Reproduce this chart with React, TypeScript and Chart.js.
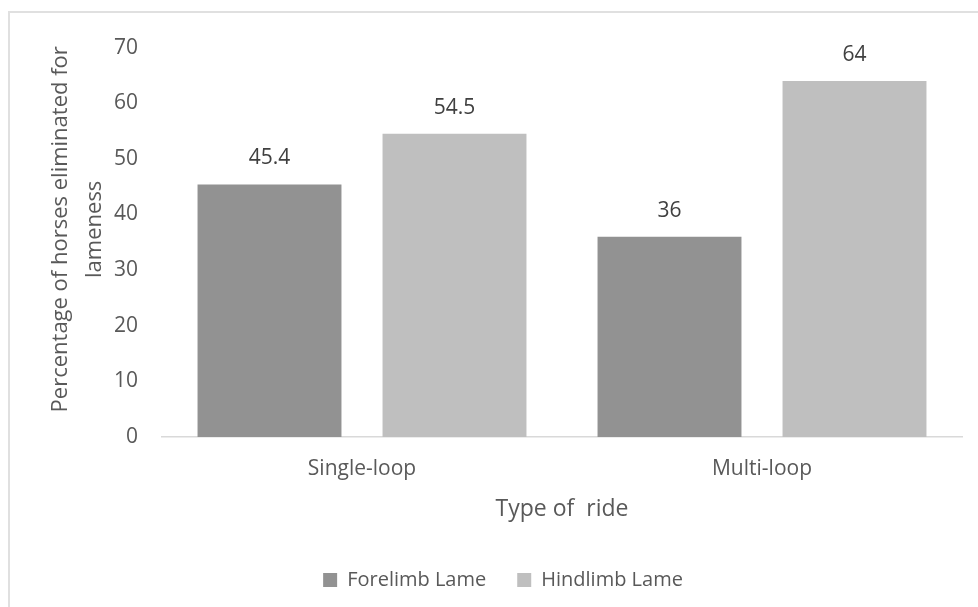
import React, { useEffect, useRef } from "react";
import { Chart, registerables } from "chart.js";

Chart.register(...registerables);

// Ride types and lameness percentages
const categories = ["Single-loop", "Multi-loop"];
const forelimbLame = [45.4, 36];
const hindlimbLame = [54.5, 64];
const seriesNames = ["Forelimb Lame", "Hindlimb Lame"];
const yMin = 0;
const yMax = 70;
const yStep = 10;
const yTitle = ["Percentage of horses eliminated for", "lameness"];
const xTitle = "Type of  ride";

const FONT = "'Open Sans', 'DejaVu Sans', sans-serif";
const TEXT = "#595959";

// Prints each bar's value just above it
const valueLabels = {
  id: "valueLabels",
  afterDatasetsDraw(chart: any) {
    const { ctx } = chart;
    ctx.save();
    ctx.font = `21px ${FONT}`;
    ctx.fillStyle = "#404040";
    ctx.textAlign = "center";
    ctx.textBaseline = "alphabetic";
    chart.data.datasets.forEach((ds: any, i: number) => {
      chart.getDatasetMeta(i).data.forEach((bar: any, j: number) => {
        ctx.fillText(String(ds.data[j]), bar.x, bar.y - 20);
      });
    });
    ctx.restore();
  },
};

// Two-line rotated title for the value axis, set a little above the plot's middle
const valueAxisTitle = {
  id: "valueAxisTitle",
  afterDraw(chart: any) {
    const { ctx, chartArea } = chart;
    const cy = (chartArea.top + chartArea.bottom) / 2 - 13;
    const lineGap = 34;
    ctx.save();
    ctx.font = `22px ${FONT}`;
    ctx.fillStyle = TEXT;
    ctx.textAlign = "center";
    ctx.textBaseline = "middle";
    yTitle.forEach((line, i) => {
      ctx.save();
      ctx.translate(53 + i * lineGap, cy);
      ctx.rotate(-Math.PI / 2);
      ctx.fillText(line, 0, 0);
      ctx.restore();
    });
    ctx.restore();
  },
};

export default function App() {
  const canvasRef = useRef<HTMLCanvasElement | null>(null);

  useEffect(() => {
    if (!canvasRef.current) return;
    const chart = new Chart(canvasRef.current, {
      type: "bar",
      data: {
        labels: categories,
        datasets: [
          {
            label: seriesNames[0],
            data: forelimbLame,
            backgroundColor: "#929292",
            categoryPercentage: 0.925,
            barPercentage: 0.778,
          },
          {
            label: seriesNames[1],
            data: hindlimbLame,
            backgroundColor: "#bfbfbf",
            categoryPercentage: 0.925,
            barPercentage: 0.778,
          },
        ],
      },
      options: {
        responsive: false,
        animation: false,
        layout: { padding: { left: 36, right: 36, top: 30, bottom: 31 } },
        plugins: {
          tooltip: { enabled: false },
          legend: {
            position: "bottom",
            labels: {
              boxWidth: 14,
              boxHeight: 14,
              padding: 31,
              color: TEXT,
              font: { family: FONT, size: 20 },
            },
          },
        },
        scales: {
          x: {
            grid: { display: false, drawTicks: false },
            border: { display: true, color: "#d9d9d9", width: 1.5 },
            ticks: { color: TEXT, font: { family: FONT, size: 21 }, padding: 19 },
            title: {
              display: true,
              text: xTitle,
              color: TEXT,
              font: { family: FONT, size: 23 },
              padding: { top: 0, bottom: 16 },
            },
            afterFit: (scale: any) => {
              scale.height = 102;
            },
          },
          y: {
            min: yMin,
            max: yMax,
            grid: { display: false, drawTicks: false },
            border: { display: false },
            ticks: {
              stepSize: yStep,
              color: TEXT,
              font: { family: FONT, size: 21 },
              padding: 24,
            },
            afterFit: (scale: any) => {
              scale.width = 118;
            },
          },
        },
      },
      plugins: [valueLabels, valueAxisTitle],
    });
    return () => chart.destroy();
  }, []);

  return (
    <div style={{ position: "fixed", inset: 0, overflow: "hidden", background: "#ffffff" }}>
      <div
        style={{
          position: "absolute",
          left: 8,
          top: 11,
          width: 1200,
          height: 1200,
          borderTop: "2px solid #e0e0e0",
          borderLeft: "2px solid #e0e0e0",
        }}
      />
      <canvas
        ref={canvasRef}
        width={990}
        height={620}
        style={{ position: "absolute", left: 8, top: 11, display: "block" }}
      />
    </div>
  );
}
